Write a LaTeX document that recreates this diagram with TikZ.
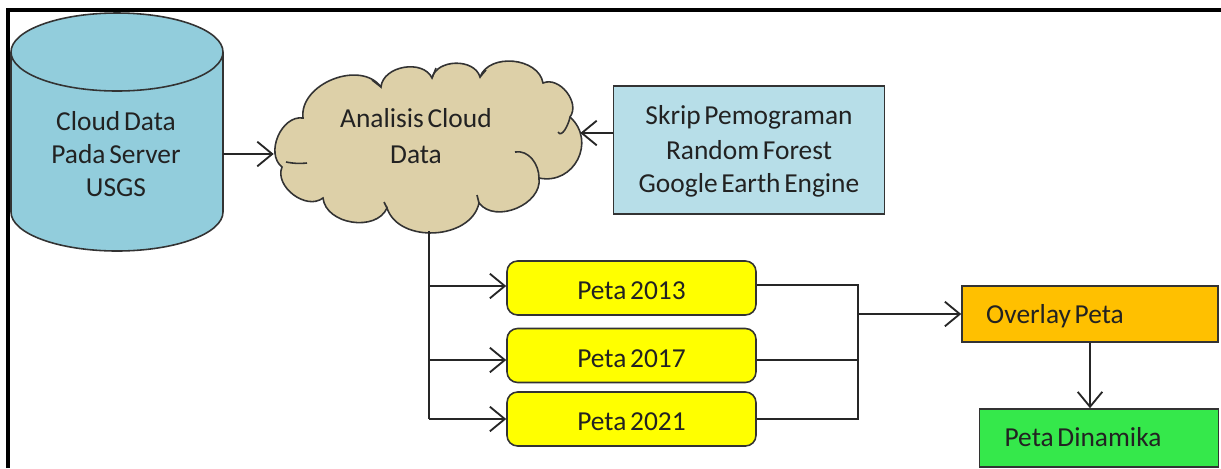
\documentclass[tikz,border=0pt]{standalone}
\usepackage{fontspec}
\setmainfont[WordSpace=0.6]{Carlito}
\usepackage{tikz}
\usetikzlibrary{arrows.meta}
\definecolor{cyltop}{HTML}{92CDDC}
\definecolor{cloudsand}{HTML}{DDD0A8}
\definecolor{skripblue}{HTML}{B7DEE8}
\definecolor{petayellow}{HTML}{FFFF00}
\definecolor{overlayorange}{HTML}{FFC000}
\definecolor{dinamikagreen}{HTML}{35E84B}
\definecolor{inktext}{HTML}{222222}
\tikzset{
  treebox/.style = {align=center, inner sep=0pt, draw=black!80, line width=0.9pt,
    text=inktext, font=\fontsize{15.6}{18.8}\selectfont},
  plain/.style = {align=center, inner sep=0pt, text=inktext,
    font=\fontsize{15.6}{18.8}\selectfont},
  lowered/.style = {execute at begin node={\rule{0pt}{#1}}},
  petabox/.style = {treebox, lowered=13.6pt, rounded corners=6pt, fill=petayellow,
    minimum width=4.98cm, minimum height=1.08cm},% peta per tahun
  link/.style = {line width=1.05pt, black!85},
  puff/.style = {bend left=75, looseness=1.05},
  fold/.style = {draw=black!80, line width=0.9pt}
}
\begin{document}
\begin{tikzpicture}[x=0.02cm,y=-0.02cm,>={Straight Barb[length=8.5pt,width=14pt]}]
\useasboundingbox (0,0) rectangle (1221,468);
% bingkai
\draw [line width=2.2pt] (8,468) -- (8,10) -- (1221,10);
% sumber data
\filldraw [fill=cyltop, fold] (11,52) arc[start angle=180, end angle=360, x radius=106, y radius=39]
  -- (223,212) arc[start angle=0, end angle=180, x radius=106, y radius=39] -- cycle;
\draw [fold] (11,52) arc[start angle=180, end angle=0, x radius=106, y radius=39];
\node (cyl) [inner sep=0pt, minimum width=4.24cm, minimum height=4.76cm] at (117,132) {};
\node (cyltext) [plain] at (116,154) {Cloud Data\\Pada Server\\USGS};
% awan
\fill [cloudsand, fold]
  (303,118) to[puff] (381,87) to[puff] (432,78) to[puff] (480,77)
  to[puff] (543,83) to[puff] (570,117) to[bend left=75, looseness=1.35] (539,178)
  to[puff] (479,203) to[puff] (387,208) to[puff] (323,198)
  to[puff] (282,167) to[puff] (303,118) -- cycle;
\draw [fold] (286,162) to[bend right=8] (307,163);
\draw [fold] (515,152) to[out=10,in=90] (539,178);
\draw [fold] (558,132) to[out=-60,in=-100] (570,117);
\draw [fold] (432,78) -- (436,68);
\draw [fold] (480,77) -- (486,70);
\draw [fold] (381,87) -- (372,80);
\draw [fold] (479,203) -- (477,195);
\draw [fold] (387,208) -- (384,202);
\node (cloud) [inner sep=0pt, minimum width=6.12cm, minimum height=3.4cm] at (427,146) {};
\node (cloudtext) [plain] at (416,136) {Analisis Cloud\\[2pt]Data};
% skrip
\node (skrip) [treebox, fill=skripblue, minimum width=5.42cm, minimum height=2.56cm] at (749,150) {};
\node (skriptext) [plain] at (749,151) {Skrip Pemograman\\[1pt]Random Forest\\Google Earth Engine};
\coordinate (skripout) at (613,133);
% peta
\node (p13) [petabox] at (631.5,288) {Peta 2013};
\node (p17) [petabox] at (631.5,355.5) {Peta 2017};
\node (p21) [petabox] at (631.5,419) {Peta 2021};
\node (overlay) [treebox, fill=overlayorange, minimum width=5.12cm, minimum height=1.12cm] at (1090,314) {};
\node (overlaytext) [plain] at (1055,316) {Overlay Peta};
\node (dinamika) [treebox, fill=dinamikagreen, minimum width=4.78cm, minimum height=1.16cm] at (1099,438) {};
\node (dinamikatext) [plain] at (1083,437) {Peta Dinamika};
\coordinate (t13) at (429,286);
\coordinate (t17) at (429,360);
\coordinate (t21) at (429,419);
\coordinate (bus) at (858,314);
\coordinate (b13) at (858,285);
\coordinate (b17) at (858,360);
\coordinate (b21) at (858,419);
% panah
\draw [link,->] (cyltext -| cyl.east) -- (cyltext -| cloud.west);
\draw [link,->] (skripout) -- (skripout -| cloud.east);
\draw [link] (t21 |- cloud.south) -- (t21);
\draw [link,->] (t13) -- (t13 -| p13.west);
\draw [link,->] (t17) -- (t17 -| p17.west);
\draw [link,->] (t21) -- (p21.west);
\draw [link] (b13 -| p13.east) -- (b13) -- (b21) -- (p21.east);
\draw [link] (b17 -| p17.east) -- (b17);
\draw [link,->] (bus) -- (overlay.west);
\draw [link,->] (overlay.south) -- (overlay.south |- dinamika.north);
\end{tikzpicture}
\end{document}
